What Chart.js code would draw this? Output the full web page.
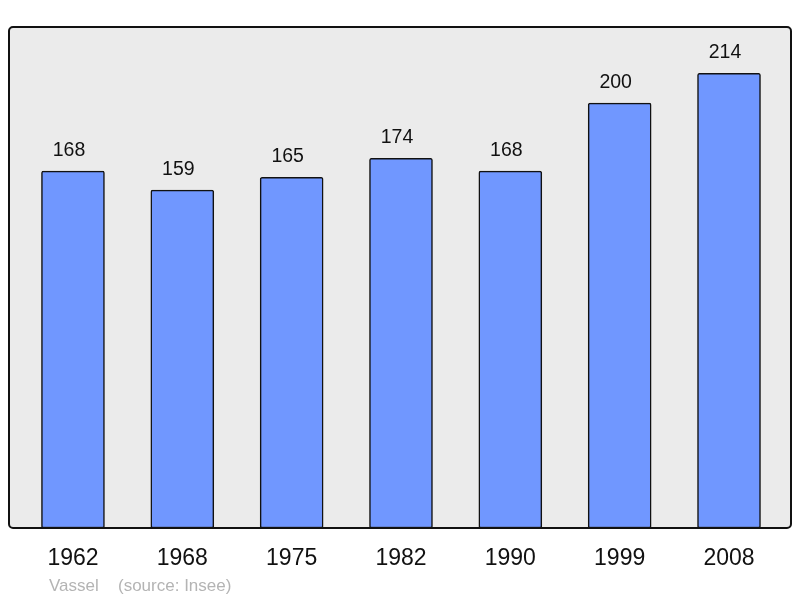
<!DOCTYPE html>
<html>
<head>
<meta charset="utf-8">
<script src="https://cdn.jsdelivr.net/npm/chart.js@4/dist/chart.umd.min.js"></script>
<style>
html,body{margin:0;padding:0;background:#fff;}
#wrap{width:800px;height:598px;position:relative;}
</style>
</head>
<body>
<div id="wrap"><canvas id="c" width="800" height="598"></canvas></div>
<script>
const years = ["1962","1968","1975","1982","1990","1999","2008"];
const population = [168,159,165,174,168,200,214];
const commune = "Vassel";
const source = "(source: Insee)";

const framePlugin = {
  id: 'frame',
  beforeDatasetsDraw(chart) {
    const {ctx, chartArea: a} = chart;
    ctx.save();
    ctx.beginPath();
    ctx.roundRect(a.left, a.top, a.right - a.left, a.bottom - a.top, 4);
    ctx.fillStyle = '#ebebeb';
    ctx.fill();
    ctx.restore();
  },
  afterDatasetsDraw(chart) {
    const {ctx, chartArea: a} = chart;
    ctx.save();
    ctx.beginPath();
    ctx.roundRect(a.left, a.top, a.right - a.left, a.bottom - a.top, 4);
    ctx.lineWidth = 2;
    ctx.strokeStyle = '#111';
    ctx.stroke();
    // value labels
    const meta = chart.getDatasetMeta(0);
    ctx.fillStyle = '#111';
    ctx.font = '19.5px "Liberation Sans", Arial, sans-serif';
    ctx.textAlign = 'center';
    ctx.textBaseline = 'middle';
    meta.data.forEach((bar, i) => {
      ctx.fillText(String(population[i]), bar.x - 4, bar.y - 20.5);
    });
    // footer
    ctx.fillStyle = '#b4b4b4';
    ctx.font = '17px "Liberation Sans", Arial, sans-serif';
    ctx.textAlign = 'left';
    ctx.textBaseline = 'alphabetic';
    ctx.fillText(commune, 49, 591);
    ctx.fillText(source, 118, 591);
    ctx.restore();
  }
};

new Chart(document.getElementById('c'), {
  type: 'bar',
  data: {
    datasets: [{
      data: population.map((v, i) => ({x: i, y: v})),
      backgroundColor: '#7097ff',
      borderColor: '#111',
      borderWidth: 1.5,
      borderRadius: 2,
      borderSkipped: false,
      barThickness: 63
    }]
  },
  options: {
    responsive: false,
    animation: false,
    devicePixelRatio: 1,
    layout: {padding: {top: 27, left: 9, right: 9, bottom: 0}},
    plugins: {legend: {display: false}, tooltip: {enabled: false}},
    scales: {
      x: {
        type: 'linear',
        offset: false,
        min: -0.585,
        max: 6.567,
        grid: {display: false, drawTicks: false, offset: false},
        border: {display: false},
        afterBuildTicks(scale) { scale.ticks = years.map((_, i) => ({value: i})); },
        afterFit(scale) { scale.height = 70; },
        ticks: {
          padding: 16.5,
          color: '#111',
          font: {family: '"Liberation Sans", Arial, sans-serif', size: 23},
          callback: (v) => years[v] ?? ''
        }
      },
      y: {
        display: false,
        min: 0,
        max: 235.8
      }
    }
  },
  plugins: [framePlugin]
});
</script>
</body>
</html>
